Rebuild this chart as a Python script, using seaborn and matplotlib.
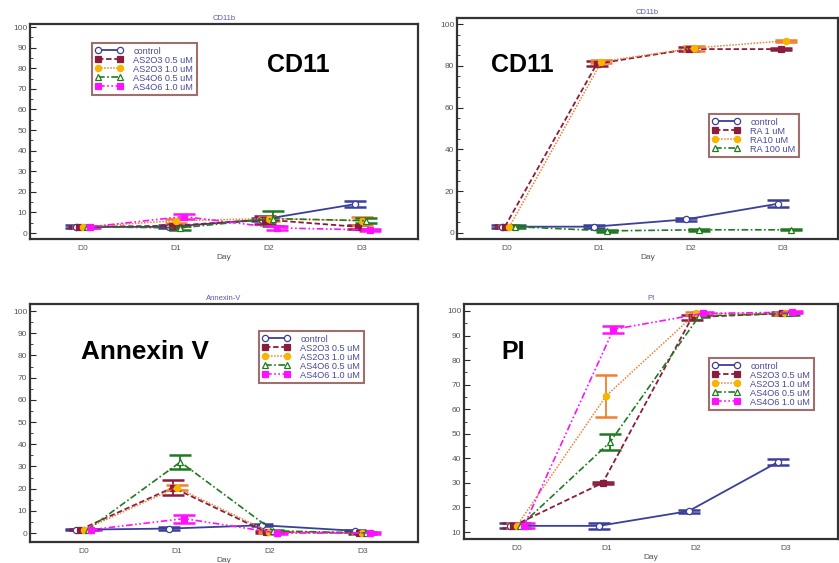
import matplotlib
matplotlib.use("Agg")
import matplotlib.pyplot as plt
import seaborn as sns
import numpy as np
from matplotlib.ticker import MultipleLocator

sns.set_style("white")
plt.rcParams['font.family'] = ['Liberation Sans', 'DejaVu Sans']

days = ["D0", "D1", "D2", "D3"]

# ---- CD11b (arsenic) ----
cd_as_labels = ["control", "AS2O3 0.5 uM", "AS2O3 1.0 uM", "AS4O6 0.5 uM", "AS4O6 1.0 uM"]
cd_as_control = [3, 3, 6.5, 14]
cd_as_as2o3_05 = [3, 3.5, 6.5, 3]
cd_as_as2o3_10 = [3, 6, 7, 6]
cd_as_as4o6_05 = [3, 2.5, 7, 6]
cd_as_as4o6_10 = [3, 8, 2.5, 1.5]
cd_as_err = [[0.8, 0.8, 0.8, 1.6], [0.5, 0.5, 2, 1], [0.5, 1, 1, 2],
             [0.5, 0.8, 3.5, 1.2], [0.5, 1, 0.8, 0.5]]

# ---- CD11b (RA) ----
cd_ra_labels = ["control", "RA 1 uM", "RA10 uM", "RA 100 uM"]
cd_ra_control = [3, 3, 6.5, 14]
cd_ra_1 = [3, 81, 88, 88]
cd_ra_10 = [3, 82, 88.5, 92]
cd_ra_100 = [3, 1, 1.5, 1.5]
cd_ra_err = [[0.8, 0.8, 0.8, 1.6], [0.8, 1.2, 1.0, 0.6], [0.8, 0.8, 1.2, 0.5], [0.8, 0.5, 0.5, 0.3]]

# ---- Annexin-V ----
ann_control = [1.5, 2, 3.5, 1]
ann_as2o3_05 = [1.5, 20.5, 0.5, 0]
ann_as2o3_10 = [1.5, 20.5, 0.5, 0]
ann_as4o6_05 = [1.5, 32, 1, 0]
ann_as4o6_10 = [1.5, 6.5, 0, 0]
ann_err = [[0.3, 0.8, 0.5, 0.3], [0.3, 3.5, 0.5, 0.3], [0.3, 1.0, 0.3, 0.3],
           [0.3, 3, 0.5, 0.3], [0.3, 1.8, 0.3, 0.3]]

# ---- PI ----
pi_control = [12.5, 12.5, 18.5, 38.5]
pi_as2o3_05 = [12.5, 30, 97.5, 99]
pi_as2o3_10 = [12.5, 65.5, 99, 99]
pi_as4o6_05 = [12.5, 46.5, 98, 99]
pi_as4o6_10 = [12.5, 92.5, 99, 99.5]
pi_err = [[1, 1.3, 0.6, 1.3], [1, 0.5, 1, 0.5], [1, 8.5, 0.5, 0.5],
          [1, 3.3, 0.5, 0.5], [1, 1.5, 0.5, 0.5]]

# styles
NAVY = "#3b3f9a"
MAROON = "#8a1c3c"
GOLD = "#f7b500"
ORANGE_LINE = "#f08030"
GREEN = "#1e7a1e"
MAGENTA = "#ff10ff"

as_styles = [
    dict(color=NAVY, ls="-", marker="o", mfc="white", mec=NAVY, ecolor=NAVY, lw=1.3),
    dict(color=MAROON, ls=(0, (3, 1.5)), marker="s", mfc=MAROON, mec=MAROON, ecolor=MAROON, lw=1.3),
    dict(color=ORANGE_LINE, ls=(0, (1, 1)), marker="o", mfc=GOLD, mec=GOLD, ecolor=ORANGE_LINE, lw=1.1),
    dict(color=GREEN, ls=(0, (4, 1.5, 1, 1.5)), marker="^", mfc="white", mec=GREEN, ecolor=GREEN, lw=1.2),
    dict(color=MAGENTA, ls=(0, (4, 1.5, 1, 1.5, 1, 1.5)), marker="s", mfc=MAGENTA, mec=MAGENTA, ecolor=MAGENTA, lw=1.2),
]
ra_styles = [as_styles[0], as_styles[1], as_styles[2], as_styles[3]]

W, H = 839, 563
fig = plt.figure(figsize=(W / 100, H / 100), dpi=100)


def px_axes(l, t, r, b):
    return fig.add_axes([l / W, 1 - b / H, (r - l) / W, (b - t) / H])


def draw(ax, series, labels, errs, styles, offsets, title, ylim, xlim, ymajor,
         big, bigpos, bigsize, legbox):
    x = np.arange(len(days))
    for vals, lab, err, st, off in zip(series, labels, errs, styles, offsets):
        xs = x + off
        ax.errorbar(xs, vals, yerr=err, fmt="none", ecolor=st["ecolor"],
                    elinewidth=1.3, capsize=8, capthick=1.8, zorder=2)
        sns.lineplot(x=xs, y=vals, ax=ax, color=st["color"], linestyle=st["ls"],
                     marker=st["marker"], markersize=4.5, markerfacecolor=st["mfc"],
                     markeredgecolor=st["mec"], markeredgewidth=0.9, linewidth=st["lw"],
                     label=lab, errorbar=None, zorder=3)
    ax.set_xlim(*xlim)
    ax.set_ylim(*ylim)
    ax.set_xticks(x)
    ax.set_xticklabels(days)
    ax.yaxis.set_major_locator(MultipleLocator(ymajor))
    ax.yaxis.set_minor_locator(MultipleLocator(5))
    ax.tick_params(axis="y", which="major", direction="in", length=4, width=0.8,
                   labelsize=6, labelcolor="#555555", left=True, pad=2)
    ax.tick_params(axis="y", which="minor", direction="in", length=2, width=0.6, left=True)
    ax.tick_params(axis="x", length=0, labelsize=6, labelcolor="#555555", pad=4)
    for sp in ax.spines.values():
        sp.set_visible(True)
        sp.set_color("#333333")
        sp.set_linewidth(1.6)
    ax.set_xlabel("Day", fontsize=6, color="#555555", labelpad=2)
    ax.set_ylabel("")
    ax.set_title(title, fontsize=5.5, color="#5a5aaa", pad=3)
    ax.text(bigpos[0], bigpos[1], big, fontsize=bigsize, fontweight="bold", color="black",
            ha="center", va="center", transform=ax.transData)
    l, t = legbox
    leg = ax.legend(loc="upper left", bbox_to_anchor=(l / W, 1 - t / H),
                    bbox_transform=fig.transFigure, fontsize=6.6, numpoints=2,
                    handlelength=3.0, handletextpad=1.1, labelspacing=0.0,
                    borderpad=0.4, borderaxespad=0, frameon=True, fancybox=False)
    leg.get_frame().set_edgecolor("#8a4a4a")
    leg.get_frame().set_linewidth(1.5)
    for txt in leg.get_texts():
        txt.set_color("#4a4a9a")


as_off = [-0.08, -0.04, 0.0, 0.04, 0.08]
ra_off = [-0.05, -0.02, 0.03, 0.09]

ax1 = px_axes(30, 24, 418, 239)
draw(ax1, [cd_as_control, cd_as_as2o3_05, cd_as_as2o3_10, cd_as_as4o6_05, cd_as_as4o6_10],
     cd_as_labels, cd_as_err, as_styles, as_off, "CD11b", (-2.9, 101.5), (-0.57, 3.6), 10,
     "CD11", (2.31, 81.5), 18, (92, 43))

ax2 = px_axes(457, 18, 838, 239)
draw(ax2, [cd_ra_control, cd_ra_1, cd_ra_10, cd_ra_100],
     cd_ra_labels, cd_ra_err, ra_styles, ra_off, "CD11b", (-2.9, 102.9), (-0.54, 3.6), 20,
     "CD11", (0.17, 80.4), 18, (709, 114))

ax3 = px_axes(30, 304, 418, 542)
draw(ax3, [ann_control, ann_as2o3_05, ann_as2o3_10, ann_as4o6_05, ann_as4o6_10],
     cd_as_labels, ann_err, as_styles, as_off, "Annexin-V", (-4.05, 103.2), (-0.58, 3.6), 10,
     "Annexin V", (0.66, 81.5), 18.8, (259, 331))

ax4 = px_axes(464, 304, 838, 539)
draw(ax4, [pi_control, pi_as2o3_05, pi_as2o3_10, pi_as4o6_05, pi_as4o6_10],
     cd_as_labels, pi_err, as_styles, as_off, "PI", (7.15, 102.85), (-0.59, 3.59), 10,
     "PI", (-0.04, 83.3), 18, (709, 358))

fig.savefig("out.png", dpi=100)
